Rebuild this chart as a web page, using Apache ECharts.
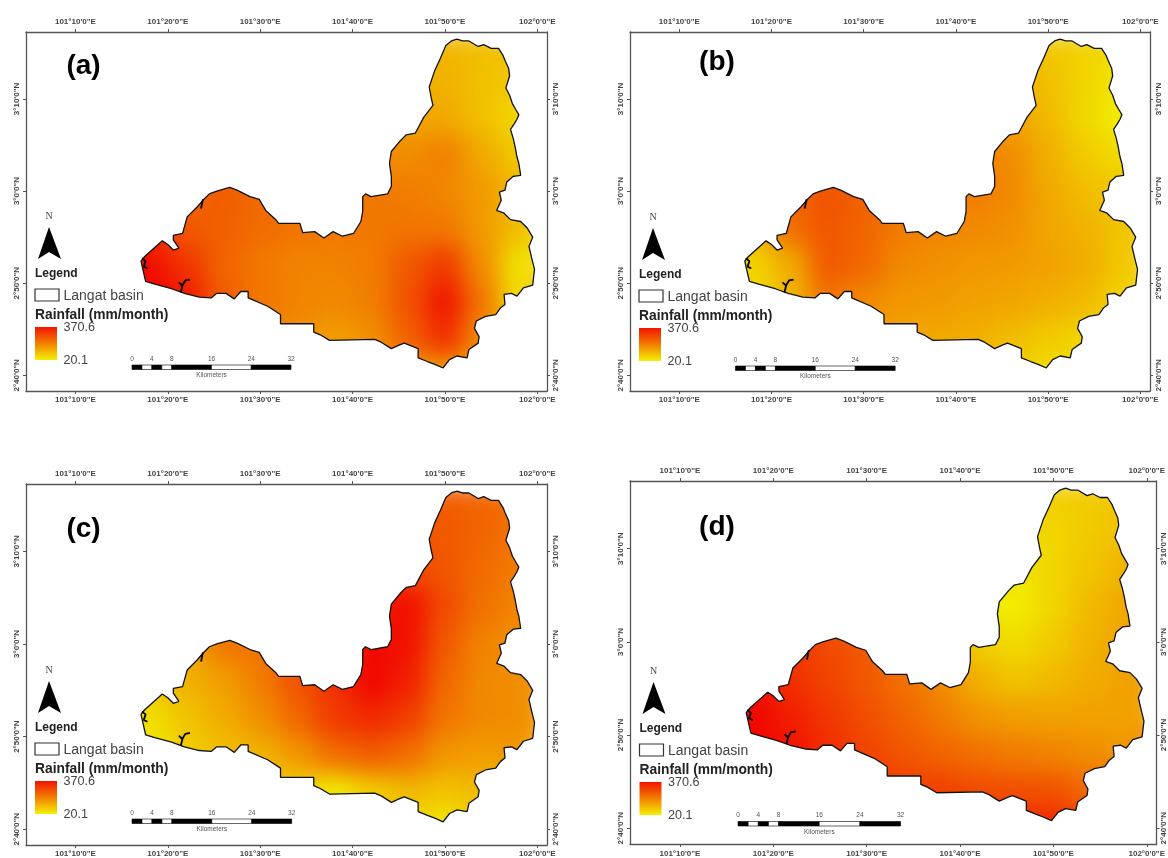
<!DOCTYPE html>
<html><head><meta charset="utf-8">
<style>html,body{margin:0;padding:0;background:#fff}#c{width:1168px;height:858px}</style>
<script src="https://cdn.jsdelivr.net/npm/echarts@6/dist/echarts.min.js"></script>
</head><body><div id="c"></div>
<script>
// Longitude in arc-minutes past 101°00', latitude in arc-minutes past 2°00'
const outlineLon=[51.3,51.9,52.6,53.6,54.2,55.0,55.8,56.3,56.5,56.9,57.0,56.6,57.0,57.3,57.7,58.0,57.8,57.5,57.1,57.4,57.6,57.8,58.0,58.2,57.4,56.7,56.5,55.9,56.1,55.6,56.4,57.1,58.2,58.9,59.5,59.1,59.4,59.7,59.5,58.5,57.8,57.2,56.4,56.5,56.0,55.5,54.4,53.4,53.2,53.7,53.6,52.6,52.4,51.3,50.5,49.8,48.9,48.1,47.1,47.1,45.6,45.1,44.2,43.1,42.4,37.5,36.5,35.8,35.8,32.2,32.2,30.8,28.7,28.7,27.9,27.2,26.3,25.3,24.7,23.4,21.8,20.4,18.6,17.6,17.3,17.1,17.5,18.5,19.4,20.0,20.6,21.2,20.6,20.6,21.6,22.1,23.2,23.8,24.5,25.3,26.7,27.5,28.9,29.9,30.6,31.7,32.0,34.3,34.6,35.9,36.9,37.9,38.9,40.1,40.9,41.1,41.1,41.4,42.0,43.8,44.2,44.2,44.0,44.2,45.2,45.8,46.8,47.7,48.7,48.5,48.3,48.9,49.5,50.1,50.7];
const outlineLat=[76.5,76.3,76.3,75.7,75.9,75.5,75.5,74.7,74.2,73.3,72.5,71.2,70.4,69.5,68.8,68.3,67.8,67.3,66.7,65.7,64.8,63.7,63.0,61.7,61.6,61.0,60.1,59.9,59.0,57.9,57.6,56.9,56.7,56.0,55.0,54.0,52.7,51.5,49.8,49.5,48.6,48.9,48.8,47.7,47.3,46.6,46.4,45.9,45.1,44.2,43.5,42.8,41.9,42.1,41.7,40.8,41.2,41.5,41.9,42.9,43.5,43.3,42.9,43.6,43.9,43.8,44.4,44.7,45.6,45.6,46.6,47.5,48.4,49.1,49.1,48.3,48.9,48.9,48.4,48.5,48.9,49.4,49.9,50.2,51.5,52.4,52.9,53.8,54.6,54.2,53.6,53.8,54.7,55.2,55.4,57.2,58.3,59.0,59.7,60.0,60.4,60.1,59.4,59.1,57.9,56.9,56.5,56.5,55.5,55.6,54.9,55.6,55.1,55.4,56.7,57.8,59.4,59.7,59.4,59.7,60.5,61.6,63.0,64.3,65.5,66.1,66.3,68.0,69.3,70.2,71.3,73.1,74.4,75.8,76.3];
const lakeLon=[22.4,21.9,21.6,21.4,'-',21.2,21.6,'-',17.2,17.6,17.4,17.8,'-',23.8,23.6];
const lakeLat=[50.4,50.3,49.8,49.0,'-',50.1,49.7,'-',52.7,52.4,51.8,51.6,'-',59.1,58.1];

const lonTicks=[10,20,30,40,50,60];
const lonLabels=['101°10\'0"E','101°20\'0"E','101°30\'0"E','101°40\'0"E','101°50\'0"E','102°0\'0"E'];
const latTicks=[40,50,60,70];
const latLabels=['2°40\'0"N','2°50\'0"N','3°0\'0"N','3°10\'0"N'];

const gridLon=[18,22,26,30,34,38,42,46,50,54,58];
const gridLat=[76,72,68,64,60,56,52,48,44,40];
const _=null;
// Rainfall (mm/month), rows follow gridLat, columns follow gridLon
const rainA=[
[_,_,_,_,_,_,_,110,105,95,85],
[_,_,_,_,_,_,_,115,110,90,75],
[_,_,_,_,_,_,_,130,125,90,55],
[_,_,_,_,_,_,165,165,185,125,75],
[_,225,235,215,200,195,195,190,175,145,105],
[300,240,230,215,200,195,195,200,195,145,95],
[350,295,225,195,180,180,190,240,285,165,40],
[370,340,235,200,180,170,185,250,340,200,40],
[_,_,_,180,160,140,160,230,300,165,_],
[_,_,_,_,_,125,125,125,125,105,_]];
const rainB=[
[_,_,_,_,_,_,_,110,80,65,50],
[_,_,_,_,_,_,_,120,90,60,35],
[_,_,_,_,_,_,_,135,100,55,25],
[_,_,_,_,_,_,190,165,115,75,50],
[_,220,250,230,205,190,190,170,125,95,80],
[110,210,245,225,190,175,170,160,130,110,85],
[60,120,240,220,170,160,150,145,135,120,80],
[50,100,200,170,150,145,135,130,115,100,60],
[_,_,_,140,130,125,115,95,75,60,_],
[_,_,_,_,_,110,90,70,45,40,_]];
const rainC=[
[_,_,_,_,_,_,_,240,235,225,210],
[_,_,_,_,_,_,_,250,240,225,200],
[_,_,_,_,_,_,_,270,245,215,190],
[_,_,_,_,_,_,330,350,260,205,175],
[_,120,200,200,230,280,360,345,240,180,160],
[90,110,140,190,250,300,360,325,220,170,165],
[45,85,120,160,220,285,310,280,200,170,165],
[25,70,90,110,150,210,235,210,150,140,150],
[_,_,_,60,60,25,70,100,85,100,_],
[_,_,_,_,_,25,40,45,25,60,_]];
const rainD=[
[_,_,_,_,_,_,_,70,70,75,85],
[_,_,_,_,_,_,_,55,60,75,90],
[_,_,_,_,_,_,_,40,60,85,110],
[_,_,_,_,_,_,30,21,60,100,125],
[_,290,260,240,210,150,70,50,75,110,135],
[340,300,270,240,205,165,110,85,100,120,135],
[360,325,290,255,225,190,155,140,135,135,135],
[365,345,305,270,245,225,205,190,180,165,150],
[_,_,_,300,285,275,260,255,250,215,_],
[_,_,_,_,_,320,320,320,320,280,_]];

const scaleKm=[0,2,4,6,8,16,24,32];
const scaleKmLabels=[0,4,8,16,24,32];

const panels=[
 {name:'(a)',rain:rainA,left:26,top:32,right:547,bottom:391,dx:0,dy:0,lx:83.5,ly:66,bx:132,by:365,km:4.97,rm:5,bm:5},
 {name:'(b)',rain:rainB,left:630,top:32,right:1150,bottom:391,dx:604,dy:1,lx:717,ly:62,bx:735.5,by:366,km:4.99,rm:5,bm:5},
 {name:'(c)',rain:rainC,left:26,top:484,right:547,bottom:845,dx:0,dy:454,lx:83.5,ly:529,bx:132,by:819,km:4.99,rm:5,bm:5},
 {name:'(d)',rain:rainD,left:630,top:481,right:1160,bottom:847,dx:604.5,dy:455,lx:717,ly:527,bx:738,by:821.5,km:5.08,rm:3,bm:6}
];
const LON=[4.65,61.05], LAT=[38.3,77.27];
const FONT='"Liberation Sans",Arial,sans-serif';
const TOP=1; // layer for everything that stays sharp

function css(v){const t=Math.max(0,Math.min(1,(v-20.1)/350.5));return `rgb(241,${Math.round(240*(1-t))},0)`;}
const outlinePts=outlineLon.map((x,i)=>[x,outlineLat[i]]);
const xs=[],ys=[],grids=[],series=[],graphic=[];

panels.forEach((p,i)=>{
 grids.push({left:p.left,top:p.top,width:p.right-p.left,height:p.bottom-p.top,containLabel:false});
 const common={type:'value',gridIndex:i,z:6,zlevel:TOP,splitLine:{show:false},
   axisLine:{show:true,onZero:false,lineStyle:{color:'#555',width:1.3}},
   axisTick:{show:true,length:3,inside:false,lineStyle:{color:'#555',width:1}}};
 const xLabel=m=>({show:true,customValues:lonTicks,margin:m,fontFamily:FONT,fontSize:8,fontWeight:'bold',color:'#444',
   formatter:v=>lonLabels[lonTicks.indexOf(v)]});
 const yLabel=m=>({show:true,customValues:latTicks,rotate:90,margin:m,fontFamily:FONT,fontSize:8,fontWeight:'bold',color:'#444',
   formatter:v=>latLabels[latTicks.indexOf(v)]});
 ['bottom','top'].forEach(pos=>xs.push({...common,min:LON[0],max:LON[1],position:pos,
   axisTick:{...common.axisTick,customValues:lonTicks},axisLabel:xLabel(pos==='top'?6:p.bm)}));
 ['left','right'].forEach(pos=>ys.push({...common,min:LAT[0],max:LAT[1],position:pos,
   axisTick:{...common.axisTick,customValues:latTicks},axisLabel:yLabel(pos==='left'?5:p.rm)}));
 const xi=i*2, yi=i*2;
 const pts=[];
 p.rain.forEach((row,r)=>row.forEach((v,c)=>{if(v!==null)pts.push([gridLon[c],gridLat[r],v]);}));
 const cell=(half)=>(ps,api)=>{
   const lo=api.value(0),la=api.value(1),v=api.value(2);
   const a=api.coord([lo-half,la+half]),b=api.coord([lo+half,la-half]);
   return {type:'rect',shape:{x:a[0],y:a[1],width:b[0]-a[0]+.5,height:b[1]-a[1]+.5},style:{fill:css(v)}};
 };
 // outward extension of the cells so the soft field reaches past the basin edge
 series.push({type:'custom',xAxisIndex:xi,yAxisIndex:yi,z:1,zlevel:0,silent:true,clip:true,data:pts,encode:{x:0,y:1},renderItem:cell(7)});
 // rainfall cells
 series.push({type:'custom',name:'rainfall '+p.name,xAxisIndex:xi,yAxisIndex:yi,z:2,zlevel:0,silent:true,clip:true,data:pts,encode:{x:0,y:1},renderItem:cell(2)});
 // white mask outside the basin
 series.push({type:'custom',xAxisIndex:xi,yAxisIndex:yi,z:1,zlevel:TOP,silent:true,clip:false,data:[outlinePts[0]],
   renderItem:(ps,api)=>{
     const e=38;
     const c1=api.coord([LON[0],LAT[1]]),c2=api.coord([LON[1],LAT[0]]);
     const tl=[c1[0]-e,c1[1]-e],bl=[c1[0]-e,c2[1]+e],br=[c2[0]+e,c2[1]+e],tr=[c2[0]+e,c1[1]-e];
     const ring=outlinePts.map(q=>api.coord(q));
     return {type:'polygon',shape:{points:[tl,bl,br,tr,tl,...ring,ring[0],tl]},style:{fill:'#fff'}};
   }});
 series.push({type:'line',xAxisIndex:xi,yAxisIndex:yi,z:4,zlevel:TOP,silent:true,showSymbol:false,smooth:false,
   data:[...outlinePts,outlinePts[0]],lineStyle:{color:'#111',width:1.3}});
 series.push({type:'line',xAxisIndex:xi,yAxisIndex:yi,z:4,zlevel:TOP,silent:true,showSymbol:false,connectNulls:false,
   data:lakeLon.map((x,k)=>[x,lakeLat[k]]),lineStyle:{color:'#000',width:1.8}});

 // decorations
 const text=(s,x,y,size,opts={})=>({type:'text',z:20,zlevel:TOP,x,y,silent:true,style:{text:s,font:`${opts.weight||'normal'} ${size}px ${opts.fam||FONT}`,
   fill:opts.fill||'#333',textAlign:opts.align||'left',textVerticalAlign:'middle'}});
 const shape=(type,sh,st)=>({type,z:20,zlevel:TOP,silent:true,shape:sh,style:st});
 const d=[];
 d.push(text('N',49,216.5,10,{fam:'"Liberation Serif",serif',align:'center',fill:'#444'}));
 d.push(shape('polygon',{points:[[49,227],[61,259],[49,252],[38,259]]},{fill:'#000'}));
 d.push(text('Legend',35,273.5,12,{weight:'bold',fill:'#222'}));
 d.push(shape('rect',{x:35,y:289,width:24,height:12},{fill:'#fff',stroke:'#333',lineWidth:1.2}));
 d.push(text('Langat basin',63.5,296,14,{fill:'#444'}));
 d.push(text('Rainfall (mm/month)',35,315.5,13.8,{weight:'bold',fill:'#222'}));
 d.push(shape('rect',{x:35,y:327,width:22,height:33},{fill:new echarts.graphic.LinearGradient(0,0,0,1,[
    {offset:0,color:'#f21400'},{offset:.5,color:'#f28000'},{offset:1,color:'#f4f000'}])}));
 d.push(text('370.6',63.5,328,12.6,{fill:'#444'}));
 d.push(text('20.1',63.5,361,12.6,{fill:'#444'}));
 graphic.push({type:'group',x:p.dx,y:p.dy,zlevel:TOP,children:d});
 const b=[];
 const kmX=k=>p.bx+k*p.km;
 for(let k=0;k<scaleKm.length-1;k++){
   b.push(shape('rect',{x:kmX(scaleKm[k]),y:p.by,width:(scaleKm[k+1]-scaleKm[k])*p.km,height:4.5},
     {fill:k%2?'#fff':'#000',stroke:'#000',lineWidth:.6}));
 }
 scaleKmLabels.forEach(k=>b.push(text(String(k),kmX(k),p.by-6,6.5,{align:'center',fill:'#555'})));
 b.push(text('Kilometers',kmX(16),p.by+10.5,6.5,{align:'center',fill:'#555'}));
 b.push(text(p.name,p.lx,p.ly,28,{weight:'bold',align:'center',fill:'#000'}));
 graphic.push({type:'group',x:0,y:0,zlevel:TOP,children:b});
});

const chart=echarts.init(document.getElementById('c'),null,{renderer:'canvas'});
chart.setOption({animation:false,backgroundColor:'#fff',grid:grids,xAxis:xs,yAxis:ys,series,graphic:{elements:graphic}});
// soften the rainfall layer only: the raster in the source is a continuous surface
const layers=chart.getDom().querySelectorAll('canvas');
if(layers.length>1) layers[0].style.filter='blur(12px)';
</script></body></html>
